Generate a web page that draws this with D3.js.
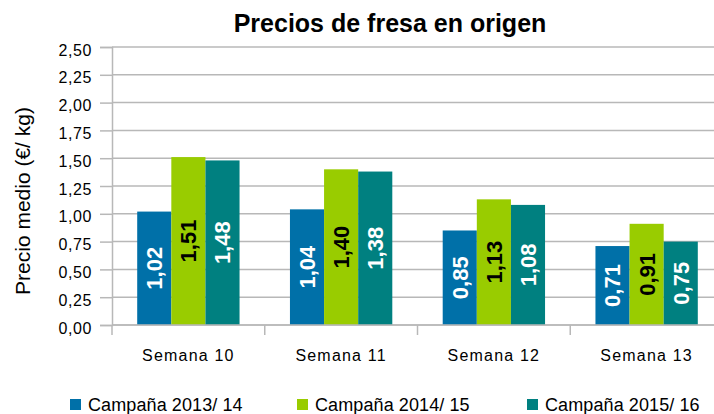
<!DOCTYPE html>
<html>
<head>
<meta charset="utf-8">
<script src="https://cdn.jsdelivr.net/npm/d3@7"></script>
<style>
  body { margin: 0; background: #fff; }
  svg { display: block; font-family: "Liberation Sans", Arial, sans-serif; }
</style>
</head>
<body>
<div id="chart"></div>
<script>
// Chart data
const categories = ['Semana 10', 'Semana 11', 'Semana 12', 'Semana 13'];
const seriesNames = ['Campaña 2013/ 14', 'Campaña 2014/ 15', 'Campaña 2015/ 16'];
const campaign1314 = [1.02, 1.04, 0.85, 0.71];
const campaign1415 = [1.51, 1.40, 1.13, 0.91];
const campaign1516 = [1.48, 1.38, 1.08, 0.75];
const yTicks = [0, 0.25, 0.5, 0.75, 1, 1.25, 1.5, 1.75, 2, 2.25, 2.5];

const WIDTH = 714;
const HEIGHT = 414;
const PLOT = { left: 112, right: 723, top: 47, bottom: 325 };
const COLORS = ['#0070a8', '#99cc00', '#008080'];
const LABEL_COLORS = ['#ffffff', '#000000', '#ffffff'];
const GRID = '#b8b8b8';

const seriesValues = [campaign1314, campaign1415, campaign1516];
const fmt = v => d3.format('.2f')(v).replace('.', ',');

const svg = d3.select('#chart')
  .append('svg')
  .attr('width', WIDTH)
  .attr('height', HEIGHT);

const x0 = d3.scaleBand()
  .domain(categories)
  .range([PLOT.left, PLOT.right])
  .padding(0);

const bw = x0.bandwidth();
const groupW = bw * 0.67;
const x1 = d3.scaleBand()
  .domain(d3.range(seriesNames.length))
  .range([(bw - groupW) / 2, (bw + groupW) / 2])
  .padding(0);

const y = d3.scaleLinear()
  .domain([0, 2.5])
  .range([PLOT.bottom, PLOT.top]);

// gridlines
svg.append('g')
  .selectAll('line')
  .data(yTicks)
  .join('line')
  .attr('x1', PLOT.left)
  .attr('x2', PLOT.right)
  .attr('y1', d => y(d))
  .attr('y2', d => y(d))
  .attr('stroke', GRID)
  .attr('stroke-width', 1.5);

// y axis
const yAxis = svg.append('g')
  .attr('transform', `translate(${PLOT.left},0)`)
  .call(d3.axisLeft(y).tickValues(yTicks).tickFormat(fmt).tickSize(12).tickPadding(8));
yAxis.select('.domain').attr('stroke', GRID).attr('stroke-width', 1.5);
yAxis.selectAll('.tick line').attr('stroke', GRID).attr('stroke-width', 1.5);
yAxis.selectAll('.tick text')
  .attr('font-size', 16)
  .attr('letter-spacing', 0.6)
  .attr('dy', '0.5em')
  .attr('fill', '#000')
  .attr('font-family', '"Liberation Sans", Arial, sans-serif');

// bars
const groups = svg.append('g')
  .selectAll('g')
  .data(seriesValues)
  .join('g')
  .attr('fill', (d, i) => COLORS[i]);

groups.selectAll('rect')
  .data((vals, si) => vals.map((v, ci) => ({ v, si, ci })))
  .join('rect')
  .attr('x', d => x0(categories[d.ci]) + x1(d.si))
  .attr('width', x1.bandwidth())
  .attr('y', d => y(d.v))
  .attr('height', d => y(0) - y(d.v));

// bar labels
svg.append('g')
  .selectAll('text')
  .data(seriesValues.flatMap((vals, si) => vals.map((v, ci) => ({ v, si, ci }))))
  .join('text')
  .attr('transform', d => {
    const cx = x0(categories[d.ci]) + x1(d.si) + x1.bandwidth() / 2;
    const cy = (y(d.v) + y(0)) / 2;
    return `translate(${cx},${cy}) rotate(-90)`;
  })
  .attr('text-anchor', 'middle')
  .attr('dy', '0.36em')
  .attr('font-size', 22)
  .attr('font-weight', 'bold')
  .attr('fill', d => LABEL_COLORS[d.si])
  .text(d => fmt(d.v));

// x axis line and category dividers
const xAxis = svg.append('g');
xAxis.append('line')
  .attr('x1', PLOT.left)
  .attr('x2', PLOT.right)
  .attr('y1', y(0))
  .attr('y2', y(0))
  .attr('stroke', GRID)
  .attr('stroke-width', 1.5);
xAxis.selectAll('.divider')
  .data(categories)
  .join('line')
  .attr('class', 'divider')
  .attr('x1', d => x0(d))
  .attr('x2', d => x0(d))
  .attr('y1', y(0))
  .attr('y2', y(0) + 10)
  .attr('stroke', GRID)
  .attr('stroke-width', 1.5);
xAxis.selectAll('.cat')
  .data(categories)
  .join('text')
  .attr('class', 'cat')
  .attr('x', d => x0(d) + bw / 2)
  .attr('y', 361)
  .attr('text-anchor', 'middle')
  .attr('font-size', 16)
  .attr('letter-spacing', 1.2)
  .text(d => d);

// axis title
svg.append('text')
  .attr('transform', 'translate(30,201) rotate(-90)')
  .attr('text-anchor', 'middle')
  .attr('font-size', 21)
  .text('Precio medio (€/ kg)');

// chart title
svg.append('text')
  .attr('x', 390)
  .attr('y', 32)
  .attr('text-anchor', 'middle')
  .attr('font-size', 25)
  .attr('font-weight', 'bold')
  .text('Precios de fresa en origen');

// legend
const legendX = [70, 297, 527];
const legend = svg.append('g')
  .selectAll('g')
  .data(seriesNames)
  .join('g')
  .attr('transform', (d, i) => `translate(${legendX[i]},399)`);
legend.append('rect')
  .attr('width', 11)
  .attr('height', 11)
  .attr('fill', (d, i) => COLORS[i]);
legend.append('text')
  .attr('x', 18)
  .attr('y', 12)
  .attr('font-size', 18)
  .attr('letter-spacing', 0.1)
  .text(d => d);
</script>
</body>
</html>
